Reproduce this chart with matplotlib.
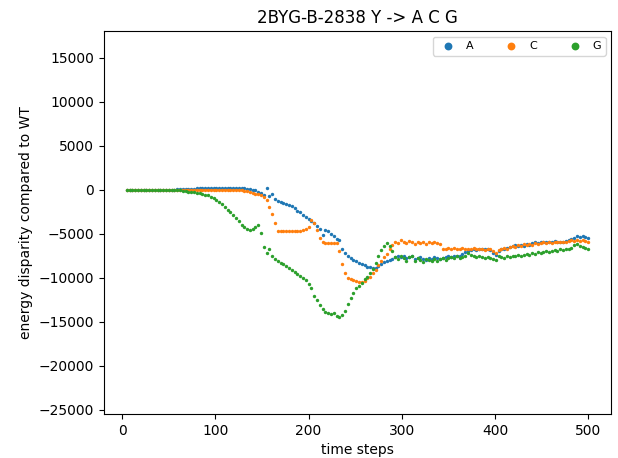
import matplotlib
matplotlib.use("Agg")
import matplotlib.pyplot as plt
import numpy as np

steps = list(range(5, 501, 3))

energy_A = [0, 0, 0, 0, 0, 0, 0, 0, 0, 0,
            0, 0, 0, 0, 0, 0, 0, 0, 30, 50,
            80, 90, 100, 110, 120, 140, 160, 180, 190, 200,
            200, 200, 200, 200, 200, 200, 200, 200, 200, 200,
            180, 160, 130, 100, 60, 0, -100, -250, -400, -600,
            200, -700, -450, -1100, -1250, -1400, -1500, -1650, -1750, -1900,
            -2100, -2400, -2600, -2850, -3100, -3300, -3550, -3800, -4100, -4500,
            -5200, -4600, -4700, -5000, -5300, -5600, -5700, -6800, -7200, -7500,
            -7800, -8000, -8150, -8300, -8450, -8600, -8750, -8850, -8900, -8900,
            -8700, -8500, -8200, -8100, -8000, -7900, -7700, -7500, -7700, -7600,
            -7800, -7700, -7600, -7900, -7800, -7700, -7900, -8000, -7800, -7900,
            -7700, -7800, -7900, -7800, -7700, -7600, -7700, -7500, -7600, -7500,
            -7300, -7100, -7000, -6900, -6800, -6900, -6800, -6700, -6800, -6800,
            -6900, -7200, -7400, -7000, -6800, -6700, -6600, -6500, -6400, -6300,
            -6400, -6300, -6400, -6200, -6300, -6100, -6000, -6100, -5900, -6000,
            -5900, -6000, -5900, -5800, -5900, -6000, -5900, -5800, -5700, -5600,
            -5500, -5300, -5400, -5300, -5400, -5500]

energy_C = [0, 0, 0, 0, 0, 0, 0, 0, 0, 0,
            0, 0, 0, 0, 0, 0, 0, 0, 0, 0,
            0, 0, 0, 0, 0, 0, 0, 0, 0, 0,
            0, 0, 0, 0, 0, -10, -20, -30, -40, -60,
            -80, -100, -150, -200, -280, -380, -450, -550, -650, -800,
            -1200, -2000, -2800, -3800, -4700, -4750, -4700, -4700, -4650, -4700,
            -4700, -4700, -4650, -4600, -4500, -4300, -3500, -3800, -4600, -5500,
            -6000, -6050, -6100, -6050, -6100, -6100, -7000, -8500, -9500, -10000,
            -10200, -10300, -10400, -10500, -10500, -10400, -10100, -9900, -9500, -9100,
            -8600, -8100, -7700, -7300, -6700, -6300, -6000, -6100, -5700, -5900,
            -6100, -5800, -6000, -6200, -5900, -6100, -6000, -6200, -6000, -6100,
            -5900, -6100, -6200, -6700, -6800, -6600, -6700, -6600, -6800, -6700,
            -6600, -6700, -6800, -6700, -6600, -6700, -6800, -6700, -6900, -6800,
            -6800, -7000, -7200, -6900, -6700, -6600, -6700, -6500, -6400, -6500,
            -6300, -6400, -6200, -6300, -6200, -6300, -6100, -6200, -6100, -6000,
            -6100, -6000, -6100, -6000, -5900, -6000, -5900, -6000, -5800, -5700,
            -5800, -5700, -5800, -5700, -5800, -5900]

energy_G = [0, 0, 0, 0, 0, 0, 0, 0, 0, 0,
            0, 0, -10, -20, -30, -40, -50, -60, -70, -80,
            -120, -180, -230, -270, -310, -350, -400, -480, -560, -650,
            -850, -1000, -1150, -1400, -1650, -2000, -2300, -2600, -2900, -3200,
            -3600, -4000, -4250, -4450, -4550, -4500, -4300, -4000, -4900, -6500,
            -7200, -6800, -7500, -7900, -8100, -8300, -8500, -8700, -8900, -9100,
            -9350, -9600, -9800, -10000, -10250, -10700, -11200, -12100, -12600, -13100,
            -13600, -13900, -14000, -14100, -14000, -14400, -14500, -14300, -13800, -13000,
            -12300, -11700, -11200, -10900, -10600, -10200, -9900, -9500, -9000, -8300,
            -7500, -6900, -6400, -6100, -6400, -7000, -7700, -7900, -7600, -7800,
            -8100, -7700, -7500, -8100, -7800, -8000, -8200, -7900, -8000, -8100,
            -7900, -8100, -7900, -7800, -8000, -7800, -7700, -7800, -7600, -7800,
            -7700, -7500, -7200, -7400, -7600, -7700, -7600, -7700, -7800, -7700,
            -7800, -7900, -8000, -7600, -7700, -7800, -7600, -7700, -7500, -7600,
            -7400, -7500, -7400, -7300, -7400, -7200, -7300, -7100, -7200, -7100,
            -7000, -7100, -7000, -6900, -7000, -6800, -6900, -6800, -6700, -6600,
            -6300, -6200, -6400, -6500, -6600, -6700]

series = [("A", energy_A, "#1f77b4"), ("C", energy_C, "#ff7f0e"), ("G", energy_G, "#2ca02c")]

fig = plt.figure(figsize=(6.18, 4.58), dpi=100)
ax = fig.add_axes([0.168, 0.096, 0.821, 0.836])
for label, vals, color in series:
    ax.scatter(steps, vals, s=6, color=color, label=label, linewidths=0)

ax.set_ylim(-25500, 18000)
ax.set_yticks(np.arange(-25000, 15001, 5000))
ax.set_xticks(np.arange(0, 501, 100))
ax.set_title("2BYG-B-2838 Y -> A C G")
ax.set_xlabel("time steps")
ax.set_ylabel("energy disparity compared to WT")
ax.legend(loc="upper right", ncol=3, fontsize=8, markerscale=2.3, handletextpad=0.6, columnspacing=2.4)
fig.savefig("out.png", dpi=100)
